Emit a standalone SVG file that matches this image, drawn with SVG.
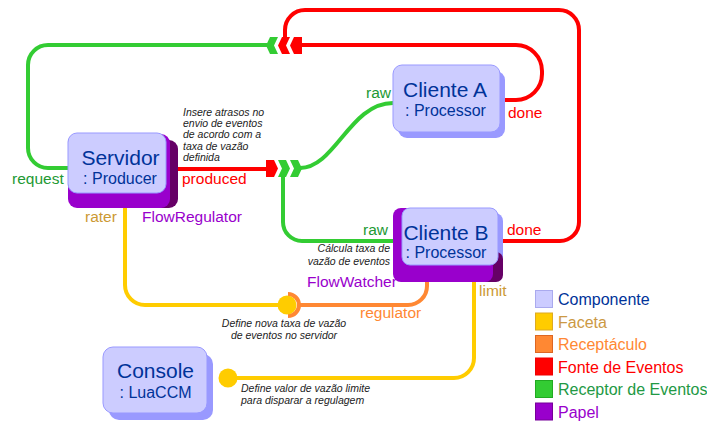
<svg xmlns="http://www.w3.org/2000/svg" width="707" height="423" viewBox="0 0 707 423">
<style>
text{font-family:"Liberation Sans",Arial,sans-serif}
.title{font-size:21px;fill:#003399;text-anchor:middle}
.sub{font-size:16px;fill:#003399;text-anchor:middle}
.lbl{font-size:15.5px}
.note{font-size:10.5px;font-style:italic;fill:#222}
.leg{font-size:16px}
.face{fill:#ccccff;stroke:#9999ff;stroke-width:1}
.ext{fill:#9999ff}
.pur{fill:#9900cc}
.dpur{fill:#660066}
.w{fill:none;stroke-width:4}
.g{stroke:#33cc33}.r{stroke:#ff0000}.y{stroke:#ffcc00}.o{stroke:#ff8833}
.fg{fill:#33cc33}.fr{fill:#ff0000}.fy{fill:#ffcc00}
.tg{fill:#229933}.tr{fill:#ff0000}.tp{fill:#9900cc}.tt{fill:#cc9933}.to{fill:#ff8833}
</style>

<g id="connectors">
  <path class="w g" d="M68 168 H48 A20 20 0 0 1 28 148 V65 A20 20 0 0 1 48 45 H267"/>
  <path class="w r" d="M500 100 H516 A26 26 0 0 0 542 74 V71 A26 26 0 0 0 516 45 H301"/>
  <path class="w r" d="M498 241 H560 A19 19 0 0 0 579 222 V30 A20 20 0 0 0 559 10 H305 A20 20 0 0 0 285 30 V40"/>
  <path class="w r" d="M170 169 H268"/>
  <path class="w g" d="M300 168 C335 168 350 103 393 103"/>
  <path class="w g" d="M283 175 V222 A19 19 0 0 0 302 241 H393"/>
  <path class="w y" d="M125 206 V285 A20 20 0 0 0 145 305 H287"/>
  <path class="w o" d="M427 280 V286 A19 19 0 0 1 408 305 H299"/>
  <path class="w y" d="M474 280 V358 A20 20 0 0 1 454 378 H228"/>
  <path class="w o" d="M288 294 A11 11 0 0 1 288 316"/>
  <circle class="fy" cx="287" cy="305" r="9.5"/>
  <circle class="fy" cx="228" cy="378" r="9.5"/>
  <!-- event chevrons, top group -->
  <path class="fg" d="M266 45.5 L270 37 H278 L274 45.5 L278 54 H270 Z"/>
  <path class="fr" d="M278 45.5 L282 37 H290 L286 45.5 L290 54 H282 Z"/>
  <path class="fr" d="M290 45.5 L294 37 H302 V54 H294 Z"/>
  <!-- event chevrons, middle group -->
  <path class="fr" d="M266 160 H274 L278 168.5 L274 177 H266 Z"/>
  <path class="fg" d="M278 160 H286 L290 168.5 L286 177 H278 L282 168.5 Z"/>
  <path class="fg" d="M290 160 H298 L302 168.5 L298 177 H290 L294 168.5 Z"/>
  <!-- port labels -->
  <text class="lbl tg" x="12" y="184">request</text>
  <text class="lbl tr" x="182" y="184">produced</text>
  <text class="lbl tt" x="85" y="222">rater</text>
  <text class="lbl tp" x="142" y="222">FlowRegulator</text>
  <text class="lbl tg" x="366" y="98">raw</text>
  <text class="lbl tr" x="508" y="118">done</text>
  <text class="lbl tg" x="363" y="235">raw</text>
  <text class="lbl tr" x="507" y="235">done</text>
  <text class="lbl tp" x="307" y="287">FlowWatcher</text>
  <text class="lbl tt" x="479" y="296">limit</text>
  <text class="lbl to" x="360" y="318">regulator</text>
</g>

<g id="notes">
  <text class="note" x="183" y="116">Insere atrasos no</text>
  <text class="note" x="183" y="127.2">envio de eventos</text>
  <text class="note" x="183" y="138.4">de acordo com a</text>
  <text class="note" x="183" y="149.6">taxa de vazão</text>
  <text class="note" x="183" y="160.8">definida</text>
  <text class="note" x="390" y="252" text-anchor="end">Cálcula taxa de</text>
  <text class="note" x="390" y="265" text-anchor="end">vazão de eventos</text>
  <text class="note" x="284" y="327" text-anchor="middle">Define nova taxa de vazão</text>
  <text class="note" x="284" y="339" text-anchor="middle">de eventos no servidor</text>
  <text class="note" x="241" y="392">Define valor de vazão limite</text>
  <text class="note" x="241" y="404">para disparar a regulagem</text>
</g>

<g id="servidor">
  <rect class="dpur" x="74" y="140" width="104" height="68" rx="9"/>
  <rect class="pur" x="68" y="134" width="102" height="74" rx="9"/>
  <rect class="face" x="68" y="133" width="98" height="60" rx="9"/>
  <text class="title" x="120.5" y="165">Servidor</text>
  <text class="sub" x="120" y="184">: Producer</text>
</g>

<g id="clienteA">
  <rect class="ext" x="398" y="71" width="107" height="67" rx="9"/>
  <rect class="face" x="393" y="65" width="107" height="67" rx="9"/>
  <text class="title" x="445" y="97">Cliente A</text>
  <text class="sub" x="445.5" y="116">: Processor</text>
</g>

<g id="clienteB">
  <rect class="ext" x="400" y="213" width="103" height="60" rx="8"/>
  <rect class="dpur" x="478" y="252" width="25" height="30" rx="7"/>
  <rect class="pur" x="393" y="208" width="100" height="74" rx="8"/>
  <rect class="face" x="402" y="208" width="96" height="57" rx="8"/>
  <text class="title" x="446" y="240">Cliente B</text>
  <text class="sub" x="446" y="258">: Processor</text>
</g>

<g id="console">
  <rect class="ext" x="109" y="354" width="104" height="66" rx="10"/>
  <rect class="face" x="103" y="347" width="104" height="66" rx="10"/>
  <text class="title" x="155.5" y="378">Console</text>
  <text class="sub" x="155.5" y="398">: LuaCCM</text>
</g>

<g id="legend">
  <rect x="535.5" y="290.5" width="17" height="17" fill="#ccccff" stroke="#aaaaee"/>
  <text class="leg" x="558" y="305" fill="#003399">Componente</text>
  <rect x="535.5" y="313" width="17" height="17" fill="#ffcc00" stroke="#ddaa22"/>
  <text class="leg" x="558" y="328" fill="#cc9944">Faceta</text>
  <rect x="535.5" y="335.5" width="17" height="17" fill="#ff8833" stroke="#dd6622"/>
  <text class="leg" x="558" y="350" fill="#ff8833">Receptáculo</text>
  <rect x="535.5" y="358" width="17" height="17" fill="#ff0000" stroke="#ee0000"/>
  <text class="leg" x="558" y="373" fill="#ff0000">Fonte de Eventos</text>
  <rect x="535.5" y="380.5" width="17" height="17" fill="#33cc33" stroke="#22aa22"/>
  <text class="leg" x="558" y="395" fill="#229944">Receptor de Eventos</text>
  <rect x="535.5" y="403" width="17" height="17" fill="#9900cc" stroke="#770099"/>
  <text class="leg" x="558" y="418" fill="#9900cc">Papel</text>
</g>
</svg>
